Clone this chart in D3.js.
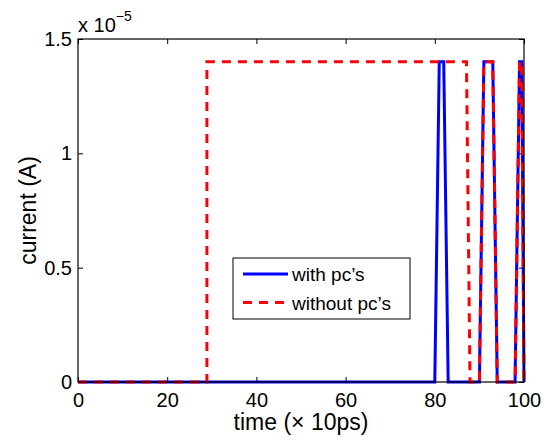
<!DOCTYPE html>
<html>
<head>
<meta charset="utf-8">
<script src="https://cdn.jsdelivr.net/npm/d3@7"></script>
<style>
  body { margin: 0; background: #fff; }
  text { font-family: "Liberation Sans", Arial, sans-serif; fill: #000; }
</style>
</head>
<body>
<div id="chart"></div>
<script>
// time in units of 10ps, current in units of 1e-5 A
const withPcT = [0, 80, 81, 82, 83, 90, 91, 93, 94, 98, 99, 99.5, 100];
const withPcI = [0, 0, 1.4, 1.4, 0, 0, 1.4, 1.4, 0, 0, 1.4, 1.4, 0];
const withoutPcT = [0, 28.9, 28.9, 87.1, 87.9, 90, 91, 93, 94, 98, 99, 99.5, 100];
const withoutPcI = [0, 0, 1.4, 1.4, 0, 0, 1.4, 1.4, 0, 0, 1.4, 1.4, 0];
const xTicks = [0, 20, 40, 60, 80, 100];
const yTicks = [0, 0.5, 1, 1.5];
const seriesNames = ["with pc\u2019s", "without pc\u2019s"];

const width = 547, height = 441;
const margin = { top: 39, right: 23, bottom: 59, left: 78 };

const svg = d3.select("#chart").append("svg")
    .attr("width", width)
    .attr("height", height);

const x = d3.scaleLinear().domain([0, 100]).range([margin.left, width - margin.right]);
const y = d3.scaleLinear().domain([0, 1.5]).range([height - margin.bottom, margin.top]);

// axes, ticks pointing inward (matlab style)
const fmt = d => d3.format("")(d);
svg.append("g")
    .attr("transform", `translate(0,${y(0)})`)
    .call(d3.axisBottom(x).tickValues(xTicks).tickSizeInner(-5).tickSizeOuter(0).tickPadding(11).tickFormat(fmt))
    .call(g => g.select(".domain").remove())
    .selectAll("text").style("font-size", "20px");

svg.append("g")
    .attr("transform", `translate(${x(0)},0)`)
    .call(d3.axisLeft(y).tickValues(yTicks).tickSizeInner(-5).tickSizeOuter(0).tickPadding(6).tickFormat(fmt))
    .call(g => g.select(".domain").remove())
    .selectAll("text").style("font-size", "20px");

// mirrored ticks top and right
svg.append("g")
    .attr("transform", `translate(0,${y(1.5)})`)
    .call(d3.axisTop(x).tickValues(xTicks).tickSizeInner(-5).tickSizeOuter(0).tickFormat(""))
    .call(g => g.select(".domain").remove());
svg.append("g")
    .attr("transform", `translate(${x(100)},0)`)
    .call(d3.axisRight(y).tickValues(yTicks).tickSizeInner(-5).tickSizeOuter(0).tickFormat(""))
    .call(g => g.select(".domain").remove());

svg.selectAll(".tick line").attr("stroke", "#000");

// lines
const line = d3.line().x(d => x(d[0])).y(d => y(d[1]));
const blueData = withPcT.map((t, i) => [t, withPcI[i]]);
const redData = withoutPcT.map((t, i) => [t, withoutPcI[i]]);

svg.append("path")
    .datum(blueData)
    .attr("d", line)
    .attr("fill", "none")
    .attr("stroke", "#0000ff")
    .attr("stroke-width", 3);

svg.append("path")
    .datum(redData)
    .attr("d", line)
    .attr("fill", "none")
    .attr("stroke", "#ff0000")
    .attr("stroke-width", 3)
    .attr("stroke-dasharray", "9,7");

// frame
svg.append("rect")
    .attr("x", x(0)).attr("y", y(1.5))
    .attr("width", x(100) - x(0)).attr("height", y(0) - y(1.5))
    .attr("fill", "none").attr("stroke", "#000").attr("stroke-width", 1.2);

// exponent label
const expo = svg.append("text")
    .attr("x", x(0))
    .attr("y", 32)
    .style("font-size", "20px");
expo.append("tspan").text("x 10");
expo.append("tspan").attr("dy", -11).style("font-size", "14px").text("\u22125");

// axis labels
svg.append("text")
    .attr("x", (x(0) + x(100)) / 2)
    .attr("y", 430)
    .attr("text-anchor", "middle")
    .style("font-size", "23px")
    .text("time (\u00d7 10ps)");

svg.append("text")
    .attr("transform", `translate(36,${(y(0) + y(1.5)) / 2}) rotate(-90)`)
    .attr("text-anchor", "middle")
    .style("font-size", "23px")
    .text("current (A)");

// legend
const lg = svg.append("g").attr("transform", "translate(233,258)");
lg.append("rect")
    .attr("width", 177).attr("height", 61)
    .attr("fill", "#fff").attr("stroke", "#000").attr("stroke-width", 1);
const legendStyles = [
    { color: "#0000ff", dash: null },
    { color: "#ff0000", dash: "9,7" }
];
seriesNames.forEach((name, i) => {
    const yy = 16 + i * 28.5;
    lg.append("line")
        .attr("x1", 10).attr("x2", 55)
        .attr("y1", yy).attr("y2", yy)
        .attr("stroke", legendStyles[i].color)
        .attr("stroke-width", 3)
        .attr("stroke-dasharray", legendStyles[i].dash);
    lg.append("text")
        .attr("x", 59).attr("y", yy + 7)
        .style("font-size", "19px")
        .text(name);
});
</script>
</body>
</html>
